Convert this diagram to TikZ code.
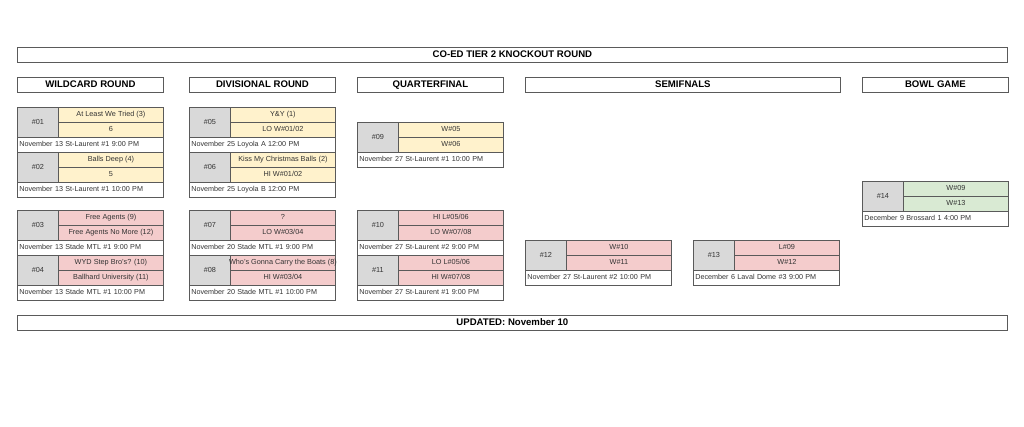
\documentclass[tikz,border=0pt]{standalone}
\usepackage{fontspec}
\setmainfont{Liberation Sans}
\definecolor{bordc}{HTML}{5A5A5A}
\definecolor{txtc}{HTML}{333333}
\definecolor{yel}{HTML}{FFF2CC}
\definecolor{pnk}{HTML}{F4CCCC}
\definecolor{grn}{HTML}{D9EAD3}
\definecolor{gry}{HTML}{D9D9D9}
\tikzset{
  base/.style={draw=bordc, line width=0.8pt, inner sep=0pt, anchor=north west, text=txtc, text height=5.3pt, text depth=1.4pt},
  numcell/.style={base, fill=gry, minimum width=41pt, minimum height=30pt, font=\fontsize{7.3}{8}\selectfont},
  teamcell/.style={base, minimum width=105pt, minimum height=15pt, font=\fontsize{7.3}{8}\selectfont},
  infocell/.style={base, fill=white, text width=142pt, inner xsep=2pt, minimum height=15pt, align=left, font=\fontsize{7.2}{8}\selectfont},
  headbox/.style={base, minimum height=15pt, font=\bfseries\fontsize{9.6}{10}\selectfont, text=black, text height=7pt, text depth=1.5pt}
}
\newcommand\matchbox[7]{%
  \node[numcell] (m#1n) at (#2,#3) {\##1};
  \node[teamcell, fill=#4] (m#1a) at (#2+41,#3) {\makebox[100pt]{#5}};
  \node[teamcell, fill=#4] (m#1b) at (#2+41,#3+15) {\makebox[100pt]{#6}};
  \node[infocell] (m#1i) at (#2,#3+30) {#7};
}
\begin{document}
\begin{tikzpicture}[x=1pt,y=-1pt]
\useasboundingbox[fill=white] (0,0) rectangle (1024,426);
\node[headbox, minimum width=990pt] (title) at (17,47) {CO-ED TIER 2 KNOCKOUT ROUND};
\node[headbox, minimum width=146pt] (hwild) at (17,77) {WILDCARD ROUND};
\node[headbox, minimum width=146pt] (hdiv) at (189,77) {DIVISIONAL ROUND};
\node[headbox, minimum width=146pt] (hqf) at (357,77) {QUARTERFINAL};
\node[headbox, minimum width=315pt] (hsemi) at (525,77) {SEMIFNALS};
\node[headbox, minimum width=146pt] (hbowl) at (862,77) {BOWL GAME};

\matchbox{01}{17}{107}{yel}{At Least We Tried (3)}{6}{November 13 St-Laurent \#1 9:00 PM}
\matchbox{02}{17}{152}{yel}{Balls Deep (4)}{5}{November 13 St-Laurent \#1 10:00 PM}
\matchbox{03}{17}{210}{pnk}{Free Agents (9)}{Free Agents No More (12)}{November 13 Stade MTL \#1 9:00 PM}
\matchbox{04}{17}{255}{pnk}{WYD Step Bro's? (10)}{Ballhard University (11)}{November 13 Stade MTL \#1 10:00 PM}

\matchbox{05}{189}{107}{yel}{Y\&Y (1)}{LO W\#01/02}{November 25 Loyola A 12:00 PM}
\matchbox{06}{189}{152}{yel}{Kiss My Christmas Balls (2)}{HI W\#01/02}{November 25 Loyola B 12:00 PM}
\matchbox{07}{189}{210}{pnk}{?}{LO W\#03/04}{November 20 Stade MTL \#1 9:00 PM}
\matchbox{08}{189}{255}{pnk}{Who's Gonna Carry the Boats (8)}{HI W\#03/04}{November 20 Stade MTL \#1 10:00 PM}

\matchbox{09}{357}{122}{yel}{W\#05}{W\#06}{November 27 St-Laurent \#1 10:00 PM}
\matchbox{10}{357}{210}{pnk}{HI L\#05/06}{LO W\#07/08}{November 27 St-Laurent \#2 9:00 PM}
\matchbox{11}{357}{255}{pnk}{LO L\#05/06}{HI W\#07/08}{November 27 St-Laurent \#1 9:00 PM}

\matchbox{12}{525}{240}{pnk}{W\#10}{W\#11}{November 27 St-Laurent \#2 10:00 PM}
\matchbox{13}{693}{240}{pnk}{L\#09}{W\#12}{December 6 Laval Dome \#3 9:00 PM}
\matchbox{14}{862}{181}{grn}{W\#09}{W\#13}{December 9 Brossard 1 4:00 PM}

\node[headbox, minimum width=990pt] (upd) at (17,315) {UPDATED: November 10};
\end{tikzpicture}
\end{document}
